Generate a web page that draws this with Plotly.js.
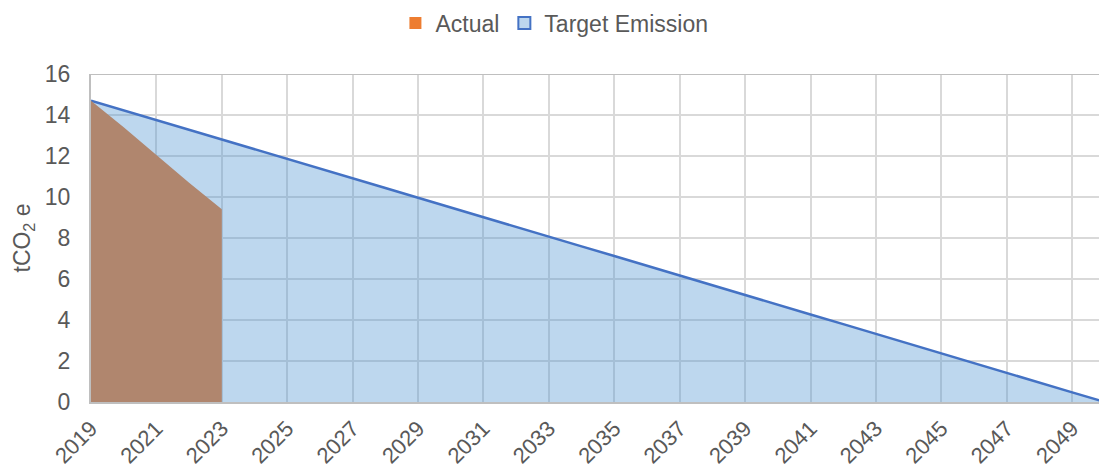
<!DOCTYPE html>
<html>
<head>
<meta charset="utf-8">
<script src="https://cdn.plot.ly/plotly-3.0.1.min.js"></script>
<style>html,body{margin:0;padding:0;background:#fff;}#chart{width:1099px;height:470px;}</style>
</head>
<body>
<div id="chart"></div>
<script>
const targetYears = [2019,2020,2021,2022,2023,2024,2025,2026,2027,2028,2029,2030,2031,2032,2033,2034,2035,2036,2037,2038,2039,2040,2041,2042,2043,2044,2045,2046,2047,2048,2049,2050];
const targetValues = [14.70,14.23,13.75,13.28,12.81,12.33,11.86,11.38,10.91,10.44,9.96,9.48,9.01,8.54,8.06,7.59,7.12,6.64,6.17,5.69,5.22,4.75,4.27,3.80,3.32,2.85,2.37,1.90,1.42,0.95,0.47,0.00];
const actualYears = [2019,2020,2021,2022,2023];
const actualValues = [14.7,13.4,12.05,10.7,9.4];
const tickYears = [2019,2021,2023,2025,2027,2029,2031,2033,2035,2037,2039,2041,2043,2045,2047,2049];
const seriesNames = ["Actual","Target Emission"];

const font = "Liberation Sans, Arial, sans-serif";
const fs = 23;
const traces = [
  {x: targetYears, y: targetValues, type: "scatter", mode: "lines", fill: "tozeroy",
   fillcolor: "rgba(77,147,209,0.37)", line: {color: "#4472C4", width: 2.5}, showlegend: false, hoverinfo: "skip"},
  {x: actualYears, y: actualValues, type: "scatter", mode: "lines", fill: "tozeroy",
   fillcolor: "rgb(176,134,110)", line: {width: 0, color: "rgb(176,134,110)"}, showlegend: false, hoverinfo: "skip"},
  {x: [null], y: [null], type: "scatter", mode: "markers", name: seriesNames[0],
   marker: {symbol: "square", size: 12, color: "#ED7D31"}},
  {x: [null], y: [null], type: "scatter", mode: "markers", name: seriesNames[1],
   marker: {symbol: "square", size: 12, color: "rgb(189,215,238)", line: {color: "#4472C4", width: 2}}}
];
const layout = {
  width: 1099, height: 470,
  margin: {l: 91, r: 0, t: 74, b: 68},
  paper_bgcolor: "#fff", plot_bgcolor: "#fff",
  font: {family: font, size: fs, color: "#595959"},
  showlegend: true,
  legend: {orientation: "h", x: 0.302, xanchor: "left", y: 1.155, yanchor: "middle",
           font: {family: font, size: fs, color: "#595959"}, itemwidth: 30, traceorder: "normal"},
  xaxis: {range: [2019, 2049.82], tickvals: tickYears, ticktext: tickYears.map(String),
          tickangle: -45, showgrid: true, gridcolor: "#D9D9D9", gridwidth: 2,
          showline: true, linecolor: "#BFBFBF", linewidth: 2, zeroline: false,
          ticks: "", ticklabelstandoff: 3, tickfont: {family: font, size: 22, color: "#595959"}},
  yaxis: {range: [0, 16], dtick: 2, tick0: 0, showgrid: true, gridcolor: "#D9D9D9", gridwidth: 2,
          showline: true, linecolor: "#BFBFBF", linewidth: 2, zeroline: false,
          ticks: "", ticklabelstandoff: 14, tickfont: {family: font, size: fs, color: "#595959"},
          title: {text: "tCO<sub>2</sub> e", standoff: 8, font: {family: font, size: fs, color: "#595959"}}},
  shapes: [{type: "line", xref: "paper", yref: "y", x0: 0, x1: 1, y0: 16, y1: 16,
            line: {color: "#BFBFBF", width: 2}, layer: "above"}]
};
Plotly.newPlot("chart", traces, layout, {displayModeBar: false, staticPlot: true});
</script>
</body>
</html>
